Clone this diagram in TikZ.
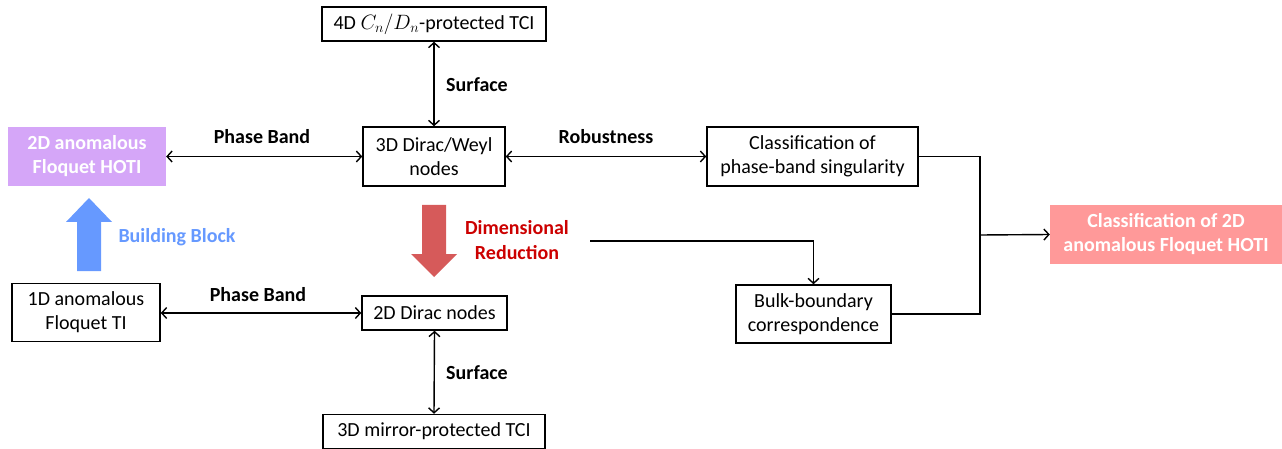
\documentclass[tikz,border=0pt]{standalone}
\usepackage{fontspec}
\setmainfont{Carlito}
\usetikzlibrary{arrows.meta}
\definecolor{hotipurple}{HTML}{D5A6F8}
\definecolor{classpink}{HTML}{FF9999}
\definecolor{blockblue}{HTML}{6699FF}
\definecolor{redarrow}{HTML}{D65A5A}
\definecolor{redtext}{HTML}{CC0000}
\tikzset{
  box/.style={draw, line width=1.5pt, align=center, inner sep=0pt,
    font=\fontsize{20}{24}\selectfont},
  fillbox/.style={fill=#1, text=white, align=center, inner sep=0pt,
    font=\fontsize{20}{24}\selectfont\bfseries},
  lbl/.style={align=center, inner sep=0pt, font=\fontsize{20}{25}\selectfont\bfseries},
  conn/.style={line width=1.4pt},
  arr/.style={conn, -{Straight Barb[length=5pt,width=11pt]}},
  dbl/.style={conn, {Straight Barb[length=5pt,width=11pt]}-{Straight Barb[length=5pt,width=11pt]}},
}
\begin{document}
\begin{tikzpicture}[x=1pt,y=-1pt]
\useasboundingbox (0,0) rectangle (1282,449);
% boxes
\node[box, minimum width=224pt, minimum height=34pt] (n4d) at (434,24) {4D $C_n/D_n$-protected TCI};
\node[box, minimum width=142pt, minimum height=59pt] (n3d) at (434,156.5) {3D Dirac/Weyl\\nodes};
\node[fillbox=hotipurple, minimum width=158pt, minimum height=59pt] (hoti) at (87,156.5) {2D anomalous\\Floquet HOTI};
\node[box, minimum width=211pt, minimum height=59pt] (cls) at (812.5,156.5) {Classification of\\phase-band singularity};
\node[fillbox=classpink, minimum width=232pt, minimum height=59pt] (pink) at (1166,234.5) {Classification of 2D\\anomalous Floquet HOTI};
\node[box, minimum width=148pt, minimum height=58pt] (n1d) at (86,312.5) {1D anomalous\\Floquet TI};
\node[box, minimum width=145pt, minimum height=34pt] (n2d) at (434.5,313) {2D Dirac nodes};
\node[box, minimum width=155pt, minimum height=58pt] (bulk) at (813.5,314) {Bulk-boundary\\correspondence};
\node[box, minimum width=222pt, minimum height=34pt] (mir) at (434,431.5) {3D mirror-protected TCI};
% labels
\node[lbl] (lpb1) at (262,137) {Phase Band};
\node[lbl] (lrob) at (606,137) {Robustness};
\node[lbl] (lsf1) at (477,85) {Surface};
\node[lbl] (lpb2) at (258,295) {Phase Band};
\node[lbl] (lsf2) at (477,373) {Surface};
\node[lbl, text=blockblue] (lbb) at (177,237) {Building Block};
\node[lbl, text=redtext] (ldr) at (517,240) {Dimensional\\Reduction};
% block arrows
\fill[blockblue] (77,271) -- (77,222) -- (66,222) -- (89,198) -- (112,222) -- (101,222) -- (101,271) -- cycle;
\fill[redarrow] (422,205) -- (446,205) -- (446,254) -- (457,254) -- (434,277) -- (411,254) -- (422,254) -- cycle;
% connectors
\draw[dbl] (hoti.east) -- (n3d.west);
\draw[dbl] (n3d.east) -- (cls.west);
\draw[dbl] (n3d.north) -- (n4d.south);
\draw[dbl] (n1d.east |- n2d.west) -- (n2d.west);
\draw[dbl] (n2d.south) -- (mir.north);
\coordinate (m) at (980,235);
\coordinate (d) at (590,241);
\draw[conn] (cls.east) -| (m);
\draw[conn] (bulk.east) -| (m);
\draw[arr] (m) -- (pink.west);
\draw[arr] (d) -| (bulk.north);
\end{tikzpicture}
\end{document}
